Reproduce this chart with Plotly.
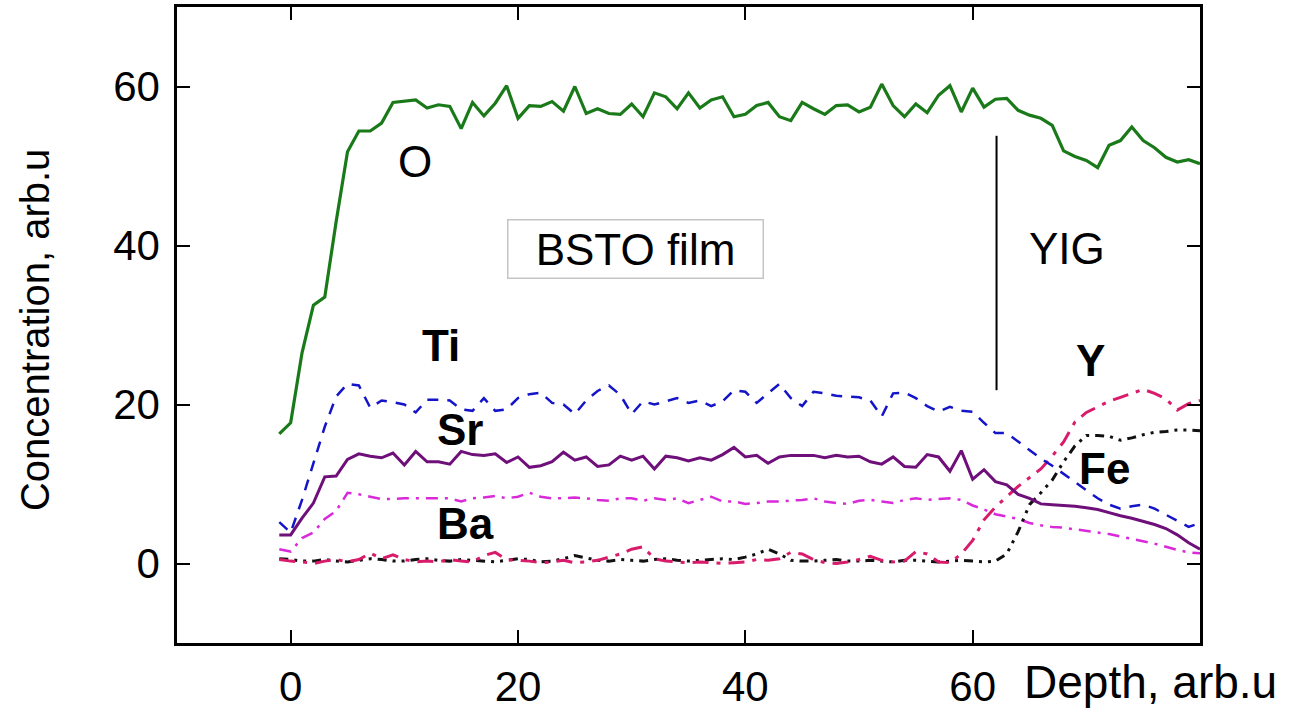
import plotly.graph_objects as go

# Depth axis (arb. units), one sample per unit
depth = list(range(-1, 81))

O = [16.3, 17.7, 26.5, 32.5, 33.5, 43.0, 51.8, 54.4, 54.4, 55.4,
     58.0, 58.2, 58.3, 57.3, 57.7, 57.5, 54.7, 58.0, 56.3, 57.9,
     60.1, 56.0, 57.6, 57.5, 58.1, 56.9, 60.0, 56.6, 57.2, 56.6,
     56.5, 57.8, 56.2, 59.2, 58.7, 57.2, 59.2, 57.3, 58.3, 58.7,
     56.2, 56.5, 57.6, 58.0, 56.2, 55.7, 58.0, 57.2, 56.5, 57.6,
     57.7, 56.8, 57.4, 60.3, 57.6, 56.2, 57.8, 56.7, 58.9, 60.1,
     56.8, 59.8, 57.4, 58.4, 58.5, 57.0, 56.4, 56.0, 55.1, 51.9,
     51.2, 50.7, 49.8, 52.6, 53.2, 54.9, 53.2, 52.3, 51.1, 50.5,
     50.8, 50.3]

Ti = [5.2, 3.9, 8.0, 12.6, 17.2, 21.0, 22.6, 22.4, 19.6, 20.5,
      20.3, 20.0, 19.0, 20.6, 20.6, 20.5, 19.4, 19.2, 20.8, 19.2,
      19.4, 20.8, 21.3, 21.5, 20.2, 20.0, 18.8, 20.5, 21.7, 22.4,
      21.2, 18.8, 20.4, 20.0, 20.4, 20.8, 20.2, 20.5, 19.8, 20.4,
      21.8, 21.6, 20.2, 21.4, 22.6, 20.8, 19.8, 21.6, 21.4, 21.1,
      21.0, 20.9, 20.5, 18.5, 21.4, 21.5, 20.8, 19.8, 19.1, 19.7,
      19.2, 19.1, 17.7, 16.4, 16.4, 15.3, 14.3, 13.2, 12.3, 11.3,
      10.2, 9.2, 8.2, 7.4, 6.9, 7.2, 7.4, 6.9, 6.1, 5.4,
      4.6, 5.1]

Sr = [3.6, 3.6, 5.7, 7.6, 10.9, 11.0, 13.1, 13.8, 13.5, 13.3,
      13.9, 12.4, 14.1, 12.8, 12.8, 12.5, 14.1, 13.7, 13.6, 13.8,
      12.7, 13.4, 12.1, 12.3, 12.8, 14.0, 13.0, 13.4, 12.2, 12.4,
      13.5, 13.0, 13.5, 11.9, 13.5, 13.3, 12.9, 13.3, 13.0, 13.7,
      14.6, 13.4, 13.6, 12.6, 13.4, 13.6, 13.6, 13.6, 13.3, 13.6,
      13.4, 13.5, 12.8, 12.5, 13.4, 12.2, 12.1, 13.7, 13.4, 11.6,
      14.2, 10.6, 11.8, 10.3, 9.9, 8.7, 8.2, 7.5, 7.4, 7.3,
      7.2, 7.0, 6.8, 6.4, 6.0, 5.7, 5.3, 4.9, 4.4, 3.6,
      2.6, 1.8]

Ba = [1.8, 1.5, 3.2, 3.9, 5.6, 6.6, 8.9, 8.7, 8.4, 8.1,
      8.1, 8.2, 8.2, 8.2, 8.2, 8.2, 7.8, 8.2, 8.3, 8.5,
      8.2, 8.4, 8.9, 8.4, 8.2, 8.2, 8.3, 8.2, 8.0, 7.9,
      8.2, 8.2, 7.9, 8.2, 8.0, 8.2, 7.6, 8.0, 8.4, 7.8,
      7.8, 7.5, 7.6, 7.8, 7.8, 7.9, 8.0, 8.2, 7.8, 7.6,
      7.5, 7.9, 8.0, 7.8, 7.6, 8.0, 8.2, 8.0, 8.1, 8.2,
      8.0, 7.3, 6.8, 6.2, 5.9, 5.6, 5.1, 4.8, 4.6, 4.5,
      4.3, 4.1, 3.9, 3.7, 3.4, 3.1, 2.8, 2.5, 2.1, 1.7,
      1.4, 1.3]

Y = [0.5, 0.3, 0.2, 0.0, 0.3, 0.5, 0.2, 0.5, 1.3, 0.6,
     1.1, 0.5, 0.2, 0.3, 0.2, 0.5, 0.3, 0.2, 1.0, 1.4,
     0.5, 0.4, 0.3, 0.1, 0.2, 0.4, 0.1, 0.2, 0.4, 0.8,
     1.2, 1.8, 2.1, 0.6, 0.3, 0.2, 0.1, 0.2, 0.1, 0.0,
     0.1, 0.2, 0.5, 0.4, 0.6, 1.4, 1.2, 0.5, 0.1, 0.0,
     0.2, 0.5, 0.9, 0.4, 0.2, 0.3, 1.5, 1.2, 0.2, 0.1,
     1.2, 2.9, 5.5, 7.1, 8.4, 9.7, 10.8, 11.9, 13.5, 15.3,
     17.8, 19.0, 19.7, 20.4, 20.9, 21.4, 21.9, 21.4, 20.7, 19.3,
     20.1, 20.5]

Fe = [0.6, 0.5, 0.3, 0.3, 0.5, 0.3, 0.2, 0.4, 0.6, 0.5,
      0.3, 0.3, 0.5, 0.6, 0.4, 0.3, 0.5, 0.4, 0.3, 0.2,
      0.4, 0.6, 0.5, 0.2, 0.3, 0.6, 1.0, 0.7, 0.4, 0.3,
      0.5, 0.4, 0.3, 0.5, 0.6, 0.4, 0.3, 0.4, 0.5, 0.6,
      0.5, 0.8, 1.2, 1.8, 1.2, 0.4, 0.3, 0.3, 0.4, 0.5,
      0.3, 0.3, 0.4, 0.3, 0.2, 0.4, 0.4, 0.3, 0.2, 0.3,
      0.4, 0.3, 0.2, 0.3, 1.2, 4.0, 7.4, 8.9, 10.5, 12.8,
      14.8, 16.1, 16.1, 16.0, 15.5, 15.8, 16.2, 16.5, 16.6, 16.8,
      16.8, 16.7]

# Interface marker between BSTO film and YIG
interface_x = 62.1
interface_y = [21.8, 53.8]

x_ticks = [0, 20, 40, 60]
y_ticks = [0, 20, 40, 60]

FONT = "Liberation Sans, Arial, sans-serif"

series = [
    ("Ba", Ba, "#d92ad9", 2.5, "12px,7px,3px,7px"),
    ("Fe", Fe, "#111111", 3, "9px,6px,3px,6px,3px,6px"),
    ("Y", Y, "#d81b6a", 3, "16px,8px,4px,8px"),
    ("Ti", Ti, "#1414c8", 2.5, "11px,9px"),
    ("Sr", Sr, "#6e0f7a", 3, "solid"),
    ("O", O, "#1a7a1a", 3.2, "solid"),
]

fig = go.Figure()
for name, vals, color, width, dash in series:
    fig.add_trace(go.Scatter(
        x=depth[:len(vals)], y=vals, mode="lines", name=name,
        line=dict(color=color, width=width, dash=dash),
        showlegend=False, hoverinfo="skip",
    ))

fig.add_shape(type="line", xref="x", yref="y",
              x0=interface_x, x1=interface_x,
              y0=interface_y[0], y1=interface_y[1],
              line=dict(color="black", width=2))

def ann(text, x, y, size=46, bold=False, **kw):
    fig.add_annotation(
        x=x, y=y, xref="x", yref="y", showarrow=False,
        text=f"<b>{text}</b>" if bold else text,
        font=dict(family=FONT, size=size, color="black"), **kw)

ann("O", 10.9, 50.6, size=44)
ann("BSTO film", 30.3, 39.5, size=44, bordercolor="#c4c4c4",
    borderwidth=1.5, borderpad=4, width=246)
ann("YIG", 68.3, 39.6, size=44)
ann("Ti", 13.2, 27.4, size=44, bold=True)
ann("Sr", 14.9, 16.8, size=44, bold=True)
ann("Ba", 15.4, 5.0, size=44, bold=True)
ann("Y", 70.4, 25.5, size=44, bold=True)
ann("Fe", 71.6, 12.0, size=44, bold=True)

fig.add_annotation(
    x=1.0, xref="paper", xanchor="left", xshift=-178,
    y=0, yref="paper", yanchor="top", yshift=-11,
    text="Depth, arb.u", showarrow=False,
    font=dict(family=FONT, size=46, color="black"))

fig.add_annotation(
    x=0, xref="paper", xanchor="center", xshift=-142,
    y=0.492, yref="paper", yanchor="middle",
    text="Concentration, arb.u", textangle=-90, showarrow=False,
    font=dict(family=FONT, size=40, color="black"))

axis_common = dict(
    showgrid=False, zeroline=False, showline=True, linecolor="black",
    linewidth=2.5, mirror="ticks", ticks="inside", ticklen=13,
    tickwidth=2, tickcolor="black", automargin=False,
    tickfont=dict(family=FONT, size=42, color="black"),
)

fig.update_xaxes(range=[-10, 80], tickvals=x_ticks,
                 ticktext=[str(v) for v in x_ticks],
                 ticklabelstandoff=5, **axis_common)
fig.update_yaxes(range=[-10, 70], tickvals=y_ticks,
                 ticktext=[str(v) for v in y_ticks],
                 ticklabelstandoff=6, **axis_common)

fig.update_layout(
    width=1291, height=714,
    margin=dict(l=177, r=91, t=7, b=71, autoexpand=False),
    paper_bgcolor="white", plot_bgcolor="white",
    font=dict(family=FONT, color="black"),
)

fig.write_html("out.html",
               config={"displayModeBar": False},
               post_script="document.body.style.margin='0px';")
